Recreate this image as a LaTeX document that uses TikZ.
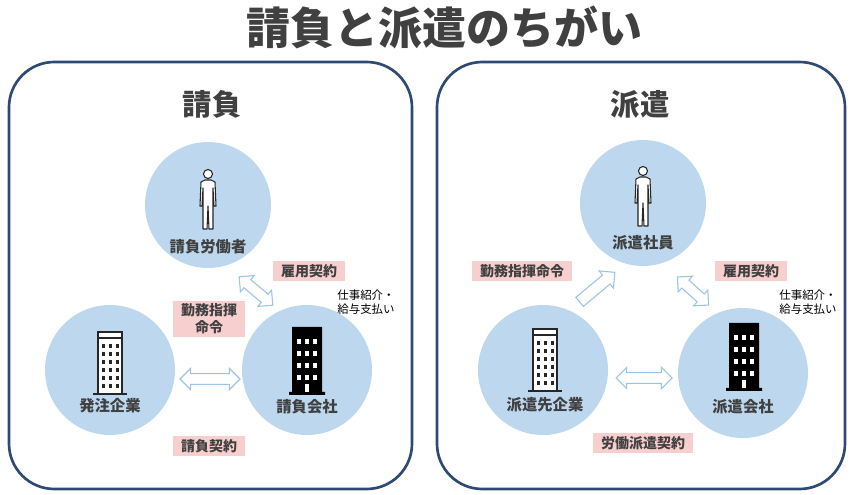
\documentclass[tikz,border=0pt]{standalone}
\usepackage{fontspec}
\setmainfont{Noto Sans CJK JP}
\usetikzlibrary{shapes.arrows}
\definecolor{navy}{HTML}{2F4A72}
\definecolor{circ}{HTML}{BDD7EE}
\definecolor{pinkb}{HTML}{F8CFCF}
\definecolor{txt}{HTML}{404040}
\definecolor{arr}{HTML}{9DC3E6}
\tikzset{
 panel/.style={draw=navy,line width=2pt,rounded corners=34pt},
 circlebg/.style={circle,fill=circ,minimum size=#1*0.75pt,inner sep=0},
 clabel/.style={font=\bfseries\fontsize{11.5}{13}\selectfont,text=txt},
 plabel/.style={fill=pinkb,font=\bfseries\fontsize{10.5}{12.5}\selectfont,text=txt,inner xsep=6pt,inner ysep=2.5pt,align=center},
 small/.style={font=\fontsize{8.6}{10.5}\selectfont,align=left,text=black},
 darrow/.style={double arrow,draw=arr,fill=white,line width=0.8pt,inner sep=3.6pt,double arrow head extend=4pt,minimum height=#1*0.75pt},
 sarrow/.style={single arrow,draw=arr,fill=white,line width=0.8pt,inner sep=4pt,single arrow head extend=4pt,minimum height=#1*0.75pt},
 person/.pic={
   \draw[line width=0.8pt,fill=white,draw=black!85] (0,0) circle[radius=4.5];
   \draw[line width=0.8pt,fill=white,draw=black!85,line join=round] (-3,6) -- (-7,8) -- (-8,32) -- (-6,32) -- (-5,14) -- (-5,55) -- (-1,55) -- (0,32) -- (1,55) -- (5,55) -- (5,14) -- (6,32) -- (8,32) -- (7,8) -- (3,6) -- cycle;
 },
 bldgo/.pic={
   \draw[line width=0.9pt,fill=white,draw=black!85] (-12,-62) rectangle (12,0);
   \draw[line width=0.9pt,draw=black!85] (-12,-56) -- (12,-56);
   \foreach \r in {0,...,5}{\foreach \c in {-1,0,1}{
     \fill[black!85] (\c*7-1.5,-50+\r*8) rectangle (\c*7+1.5,-46+\r*8);}}
   \draw[line width=2pt,black!85] (-17,0) -- (17,0);
 },
 bldgb/.pic={
   \fill[black] (-15,-68) rectangle (15,0) (-18,-3) rectangle (18,0);
   \foreach \r in {0,...,3}{\foreach \c in {-1,0,1}{
     \fill[white] (\c*8-2,-56+\r*12) rectangle (\c*8+2,-51+\r*12);}}
   \fill[white] (-2,-11) rectangle (2,-3);
 },
}
\begin{document}
\begin{tikzpicture}[x=0.75pt,y=-0.75pt]
\useasboundingbox (0,0) rectangle (854,495);
\node[font=\bfseries\fontsize{33}{36}\selectfont,text=txt] (title) at (444,27) {請負と派遣のちがい};
% left panel
\draw[panel] (9,62) rectangle (412,489);
\node[font=\bfseries\fontsize{22}{26}\selectfont,text=txt] (lh) at (212,104) {請負};
\node[circlebg=126] (lw) at (208,205) {};
\node[circlebg=130] (lc) at (110,370) {};
\node[circlebg=130] (lk) at (307,370) {};
\pic at (208,174) {person};
\pic at (110,394) {bldgo};
\pic at (307,395) {bldgb};
\node[clabel] (lwt) at (208,247) {請負労働者};
\node[clabel] (lct) at (110,406) {発注企業};
\node[clabel] (lkt) at (307,407) {請負会社};
\node[darrow=60] (la1) at (210,379) {};
\node[darrow=44,rotate=-40] (la2) at (256,291) {};
\node[plabel] (l1) at (309,271) {雇用契約};
\node[plabel] (l2) at (209,319) {勤務指揮\\命令};
\node[plabel] (l3) at (209,446) {請負契約};
\node[small] (l4) at (366,302) {仕事紹介・\\給与支払い};
% right panel
\draw[panel] (437,62) rectangle (845,489);
\node[font=\bfseries\fontsize{22}{26}\selectfont,text=txt] (rh) at (640,104) {派遣};
\node[circlebg=126] (rw) at (643,203) {};
\node[circlebg=130] (rc) at (543,370) {};
\node[circlebg=130] (rk) at (743,373) {};
\pic at (643,171) {person};
\pic at (545,391) {bldgo};
\pic at (744,391) {bldgb};
\node[clabel] (rwt) at (643,243) {派遣社員};
\node[clabel] (rct) at (545,405) {派遣先企業};
\node[clabel] (rkt) at (743,407) {派遣会社};
\node[darrow=56] (ra1) at (644,378) {};
\node[darrow=42,rotate=-42] (ra2) at (693,291) {};
\node[sarrow=46,rotate=40] (ra3) at (595,289) {};
\node[plabel] (r1) at (522,271) {勤務指揮命令};
\node[plabel] (r2) at (751,271) {雇用契約};
\node[plabel] (r3) at (643,443) {労働派遣契約};
\node[small] (r4) at (808,302) {仕事紹介・\\給与支払い};
\end{tikzpicture}
\end{document}
